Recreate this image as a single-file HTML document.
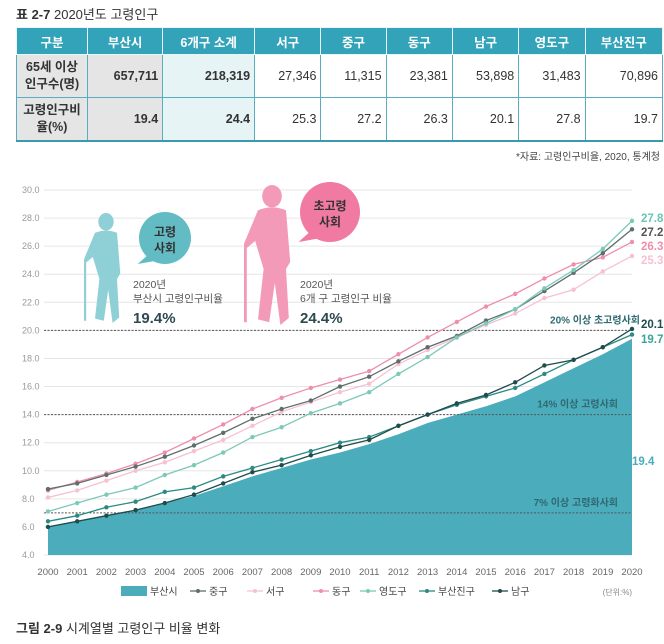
<!DOCTYPE html>
<html><head><meta charset="utf-8">
<style>
body{margin:0;width:664px;height:644px;background:#fff;font-family:"Liberation Sans","Noto Sans CJK KR",sans-serif;position:relative;overflow:hidden;color:#333}
.abs{position:absolute}
table{position:absolute;left:16px;top:27px;border-collapse:collapse;width:647px;font-size:12.5px}
td,th{height:26px;border:1px solid #58aebe;padding:0 4px;text-align:right}
th{background:#32a3b8;color:#fff;text-align:center;font-weight:bold;border-color:#eaf5f7}
tr.r td{height:42px}
td.h{background:#e5e5e5;text-align:center;font-weight:bold;line-height:17px}
td.g{background:#e5e5e5;font-weight:bold}
td.l{background:#e6f4f6;font-weight:bold}
table{border-bottom:2px solid #3a9aab}
</style></head><body>
<div class="abs" style="left:16px;top:4px;font-size:13px"><b>표 2-7</b> 2020년도 고령인구</div>
<table>
<tr><th style="width:62px">구분</th><th>부산시</th><th>6개구 소계</th><th>서구</th><th>중구</th><th>동구</th><th>남구</th><th>영도구</th><th>부산진구</th></tr>
<tr class="r"><td class="h">65세 이상<br>인구수(명)</td><td class="g">657,711</td><td class="l">218,319</td><td>27,346</td><td>11,315</td><td>23,381</td><td>53,898</td><td>31,483</td><td>70,896</td></tr>
<tr class="r"><td class="h">고령인구비<br>율(%)</td><td class="g">19.4</td><td class="l">24.4</td><td>25.3</td><td>27.2</td><td>26.3</td><td>20.1</td><td>27.8</td><td>19.7</td></tr>
</table>
<div class="abs" style="right:4px;top:148px;font-size:10px;color:#444">*자료: 고령인구비율, 2020, 통계청</div>
<svg id="c" class="abs" style="left:0;top:0" width="664" height="644"></svg>
<div class="abs" style="left:16px;top:618px;font-size:13px"><b>그림 2-9</b> 시계열별 고령인구 비율 변화</div>
<script>
const years=[2000,2001,2002,2003,2004,2005,2006,2007,2008,2009,2010,2011,2012,2013,2014,2015,2016,2017,2018,2019,2020];
const yTicks=[4,6,8,10,12,14,16,18,20,22,24,26,28,30];
const busan=[6.0,6.4,6.8,7.2,7.7,8.2,8.9,9.6,10.2,10.8,11.3,11.9,12.6,13.4,14.0,14.6,15.3,16.3,17.3,18.3,19.4];
const junggu=[8.7,9.1,9.7,10.3,11.0,11.8,12.7,13.7,14.4,15.0,16.0,16.7,17.8,18.8,19.6,20.7,21.5,22.8,24.1,25.5,27.2];
const seogu=[8.1,8.6,9.3,10.0,10.6,11.4,12.2,13.2,14.2,14.9,15.6,16.2,17.6,18.6,19.5,20.4,21.2,22.3,22.9,24.2,25.3];
const donggu=[8.6,9.2,9.8,10.5,11.3,12.3,13.3,14.4,15.2,15.9,16.5,17.1,18.3,19.5,20.6,21.7,22.6,23.7,24.7,25.2,26.3];
const yeongdo=[7.1,7.7,8.3,8.8,9.7,10.4,11.3,12.4,13.1,14.1,14.8,15.6,16.9,18.1,19.5,20.5,21.5,23.0,24.3,25.8,27.8];
const busanjin=[6.4,6.8,7.4,7.8,8.5,8.8,9.6,10.2,10.8,11.4,12.0,12.4,13.2,14.0,14.7,15.3,15.9,16.9,17.9,18.8,19.7];
const namgu=[6.0,6.4,6.8,7.2,7.7,8.3,9.1,9.9,10.4,11.1,11.7,12.2,13.2,14.0,14.8,15.4,16.3,17.5,17.9,18.8,20.1];
const thresholds=[20,14,7];
const thresholdLabels=["20% 이상 초고령사회","14% 이상 고령사회","7% 이상 고령화사회"];

const svg=document.getElementById('c');const NS='http://www.w3.org/2000/svg';
const X=i=>48+i*(632-48)/(years.length-1);
const Y=v=>555-(v-4)*(555-190)/26;
function mk(t,a,p){const e=document.createElementNS(NS,t);for(const k in a)e.setAttribute(k,a[k]);(p||svg).appendChild(e);return e;}
function tx(s,x,y,a){const e=mk('text',Object.assign({x:x,y:y,'font-size':10,fill:'#888','font-family':'Liberation Sans, Noto Sans CJK KR, sans-serif'},a));e.textContent=s;return e;}
yTicks.forEach(v=>{
 const g=mk('line',{x1:44,x2:632,y1:Y(v),y2:Y(v),stroke:'#e6e6e6'});
 
 
 const t=tx(v.toFixed(1),22,Y(v)+3,{'font-size':9,fill:'#999'});
 
 
});
years.forEach((y,i)=>{const t=tx(String(y),X(i),575,{'text-anchor':'middle','font-size':9.5,fill:'#666'});
 
 });
let d='M'+X(0)+','+Y(4);busan.forEach((v,i)=>d+='L'+X(i)+','+Y(v));d+='L'+X(busan.length-1)+','+Y(4)+'Z';
const area=mk('path',{d:d,fill:'#4bacbc'});


thresholds.forEach((v,i)=>{const l=mk('line',{x1:44,x2:632,y1:Y(v),y2:Y(v),stroke:'#555','stroke-dasharray':'2,1.5','stroke-width':1});
 
 
 const t=tx(thresholdLabels[i],i==0?640:618,Y(v)-7,{'text-anchor':'end','font-size':10,fill:'#2f6a70','font-weight':'bold'});
 
 });
const series=[[seogu,'#f5c2d2','seogu'],[donggu,'#ee8fab','donggu'],[junggu,'#5e6e6e','junggu'],[yeongdo,'#7cc9b8','yeongdo'],[busanjin,'#2b8a82','busanjin'],[namgu,'#1f4c4c','namgu']];
series.forEach(s=>{
 const pl=mk('polyline',{points:s[0].map((v,i)=>X(i)+','+Y(v)).join(' '),fill:'none',stroke:s[1],'stroke-width':1.3});
 
 
 s[0].forEach((v,i)=>{const c=mk('circle',{cx:X(i),cy:Y(v),r:2.2,fill:s[1]});
  
  });
});
[[yeongdo,'#6cc4b4'],[junggu,'#555'],[donggu,'#ee8fab'],[seogu,'#f5c2d2'],[namgu,'#1f4c4c'],[busanjin,'#3aa59a']].forEach((s,k)=>{
 const v=s[0][s[0].length-1];const yy=[222,236,250,264,328,343][k];
 const t=tx(v.toFixed(1),641,yy,{'font-size':11.5,fill:s[1],'font-weight':'bold'});
 
 });
const bl=tx(busan[busan.length-1].toFixed(1),632,465,{'font-size':11.5,fill:'#4bacbc','font-weight':'bold'});


function person(x,y,s,col,name){const g=mk('g',{transform:`translate(${x},${y}) scale(${s})`,fill:col});
 
 
 mk('ellipse',{cx:20,cy:8,rx:7,ry:8},g);
 mk('path',{d:'M10,18 Q20,14 30,18 L33,55 L30,60 L32,95 L26,100 L22,70 L18,98 L10,96 L14,60 L8,40 L2,45 L0,42 Z'},g);
 mk('line',{x1:1,y1:42,x2:1,y2:98,stroke:col,'stroke-width':2},g);}
person(84,213,1.1,'#8fd0d6','elder-figure-teal');
person(244,185,1.4,'#f39ab8','elder-figure-pink');
function bubble(cx,cy,r,col,l1,l2,name){const g=mk('g',{});
 
 
 mk('circle',{cx:cx,cy:cy,r:r,fill:col},g);
 mk('path',{d:`M${cx-r*0.6},${cy+r*0.6} L${cx-r*1.05},${cy+r*1.0} L${cx-r*0.2},${cy+r*0.85}Z`,fill:col},g);
 tx(l1,cx,cy-2,{'text-anchor':'middle','font-size':12,fill:'#333','font-weight':'bold'});
 tx(l2,cx,cy+14,{'text-anchor':'middle','font-size':12,fill:'#333','font-weight':'bold'});}
bubble(165,238,26,'#63bcc4','고령','사회','aging-bubble');
bubble(330,212,30,'#f07aa2','초고령','사회','super-aging-bubble');
[[133,'부산시 고령인구비율','19.4%'],[300,'6개 구 고령인구 비율','24.4%']].forEach(a=>{
 tx('2020년',a[0],288,{'font-size':10.5,fill:'#555'});
 tx(a[1],a[0],302,{'font-size':10.5,fill:'#555'});
 const t=tx(a[2],a[0],323,{'font-size':15,fill:'#2c4a4f','font-weight':'bold'});
 
 
});
const lg=mk('g',{});


mk('rect',{x:121,y:586,width:26,height:10,fill:'#4bacbc'},lg);
tx('부산시',150,595,{'font-size':10,fill:'#444'});
[[208,'중구','#5e6e6e'],[265,'서구','#f5c2d2'],[331,'동구','#ee8fab'],[378,'영도구','#7cc9b8'],[437,'부산진구','#2b8a82'],[510,'남구','#1f4c4c']].forEach(e=>{
 mk('line',{x1:e[0]-18,x2:e[0]-2,y1:591,y2:591,stroke:e[2],'stroke-width':1.3},lg);
 mk('circle',{cx:e[0]-10,cy:591,r:2,fill:e[2]},lg);
 tx(e[1],e[0]+1,595,{'font-size':10,fill:'#444'});
});
tx('(단위:%)',632,595,{'font-size':8,fill:'#888','text-anchor':'end'});
</script>
</body></html>
